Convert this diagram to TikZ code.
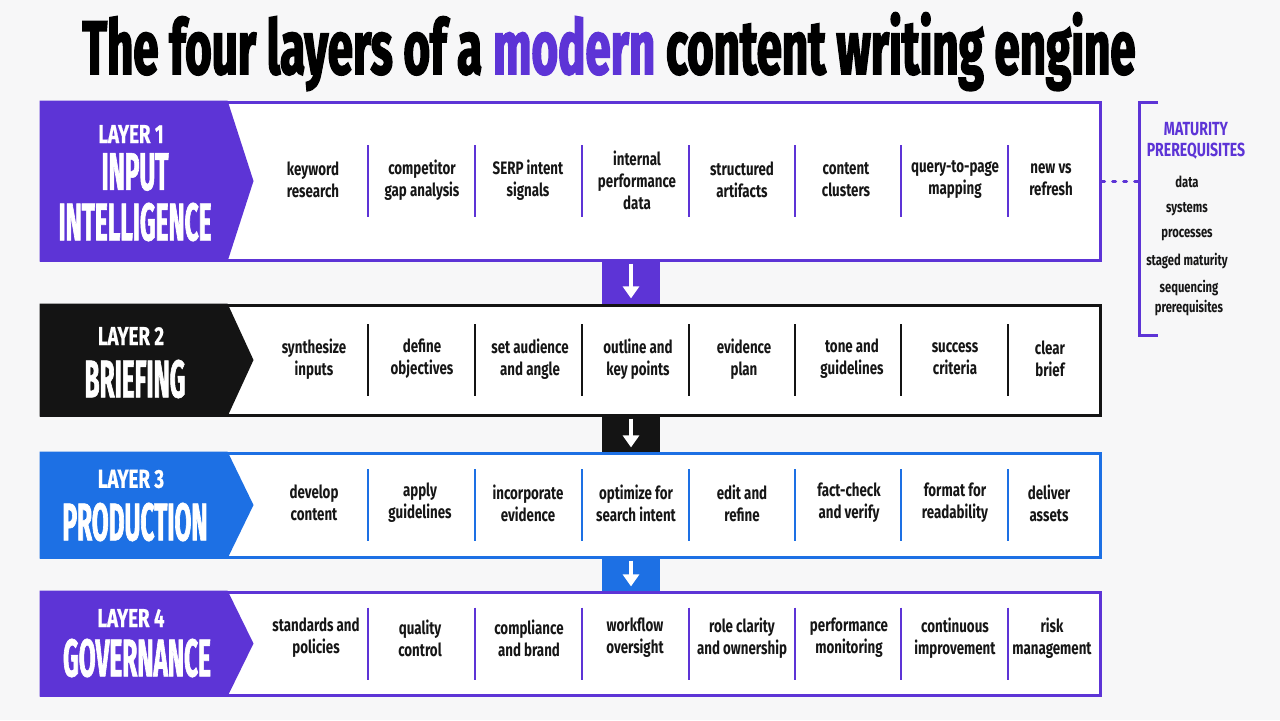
\documentclass[tikz,border=0pt]{standalone}
\usepackage{fontspec}
\setmainfont{Fira Sans}
\newfontfamily\titlefont{Fira Sans}[FakeStretch=0.6,FakeBold=2]
\newfontfamily\headfont{Fira Sans}[FakeStretch=0.46,FakeBold=1.2]
\newfontfamily\tagfont{Fira Sans}[FakeStretch=0.72,FakeBold=0.6]
\newfontfamily\itemfont{Fira Sans}[FakeStretch=0.74]
\usetikzlibrary{positioning}
\usetikzlibrary{arrows.meta}

\definecolor{engpurple}{RGB}{93,52,214}
\definecolor{engblue}{RGB}{29,112,228}
\definecolor{engblack}{RGB}{20,20,20}
\definecolor{engtext}{RGB}{22,22,22}
\definecolor{engbg}{RGB}{247,247,248}

\tikzset{
  layerbox/.style={draw=#1, line width=1.5pt, fill=white,
    minimum width=529.5pt, inner sep=0pt},
  sepline/.style={line width=1pt},
  laytag/.style={text=white, inner sep=0pt,
    font=\tagfont\bfseries\fontsize{13}{14}\selectfont},
  laytitle/.style={text=white, inner sep=0pt, align=center,
    font=\headfont\bfseries\fontsize{26.5}{23.5}\selectfont},
  item/.style={text=engtext, inner sep=0pt, align=center,
    font=\itemfont\bfseries\fontsize{9}{11}\selectfont},
  linkbox/.style={minimum width=29pt, inner sep=0pt},
  linkarrow/.style={draw=white, line width=1.6pt,
    -{Triangle[width=8pt,length=6pt]}, shorten <=2pt, shorten >=3pt},
  mathead/.style={text=engpurple, inner sep=0pt, align=center,
    font=\itemfont\bfseries\fontsize{9.5}{10.5}\selectfont},
  matitem/.style={text=engtext, inner sep=0pt, align=center,
    font=\itemfont\bfseries\fontsize{7.6}{10}\selectfont},
  matline/.style={draw=engpurple, line width=1.5pt},
}

\begin{document}
\begin{tikzpicture}[x=0.5pt, y=-0.5pt]
\useasboundingbox[fill=engbg] (0,0) rectangle (1280,720);

\node[anchor=base, font=\titlefont\bfseries\fontsize{38}{40}\selectfont]
  (title) at (609,74) {The four layers of a \textcolor{engpurple}{modern} content writing engine};

% links between the layers
\node[linkbox, fill=engpurple, minimum height=22pt] (link12) at (631,282) {};
\node[linkbox, fill=engblack, minimum height=19pt] (link23) at (631,434) {};
\node[linkbox, fill=engblue, minimum height=17.5pt] (link34) at (631,574.5) {};
\draw[linkarrow] (link12.north) -- (link12.south);
\draw[linkarrow] (link23.north) -- (link23.south);
\draw[linkarrow] (link34.north) -- (link34.south);

% layer boxes with their chevrons and separators
\foreach \n/\col/\cy/\h in {1/engpurple/181/79, 2/engblack/360/55,
                            3/engblue/505/52, 4/engpurple/643.5/51.5} {
  \node[layerbox=\col, minimum height=\h pt] (lay\n) at (570.5,\cy) {};
  \fill[\col] (lay\n.north west) -- ([xshift=94pt]lay\n.north west)
    -- ([xshift=107pt]lay\n.west) -- ([xshift=94pt]lay\n.south west)
    -- (lay\n.south west) -- cycle;
  \foreach \x in {368,475,582,689,795,901,1008}
    \draw[sepline, draw=\col] (\x,\cy-36) -- (\x,\cy+36);
}

\node[laytag] (tag1) at (131,134) {LAYER 1};
\node[laytitle] (name1) at (135,172) {INPUT};
\node[laytitle] (name1b) at (135,222) {INTELLIGENCE};
\node[laytag] (tag2) at (131,336) {LAYER 2};
\node[laytitle] (name2) at (135,379) {BRIEFING};
\node[laytag] (tag3) at (131,479) {LAYER 3};
\node[laytitle] (name3) at (135,522) {PRODUCTION};
\node[laytag] (tag4) at (131,618) {LAYER 4};
\node[laytitle] (name4) at (137,658) {GOVERNANCE};

% items
\foreach \i/\x/\txt in {1/313/{keyword\\research}, 2/422/{competitor\\gap analysis},
    3/528/{SERP intent\\signals}, 4/637/{internal\\performance\\data},
    5/742/{structured\\artifacts}, 6/846/{content\\clusters},
    7/955/{query-to-page\\mapping}, 8/1051/{new vs\\refresh}}
  \node[item] (l1i\i) at (\x,180) {\txt};
\foreach \i/\x/\txt in {1/314/{synthesize\\inputs}, 2/422/{define\\objectives},
    3/530/{set audience\\and angle}, 4/638/{outline and\\key points},
    5/744/{evidence\\plan}, 6/852/{tone and\\guidelines},
    7/955/{success\\criteria}, 8/1050/{clear\\brief}}
  \node[item] (l2i\i) at (\x,359) {\txt};
\foreach \i/\x/\txt in {1/314/{develop\\content}, 2/420/{apply\\guidelines},
    3/528/{incorporate\\evidence}, 4/636/{optimize for\\search intent},
    5/742/{edit and\\refine}, 6/849/{fact-check\\and verify},
    7/955/{format for\\readability}, 8/1049/{deliver\\assets}}
  \node[item] (l3i\i) at (\x,503) {\txt};
\foreach \i/\x/\txt in {1/316/{standards and\\policies}, 2/420/{quality\\control},
    3/529/{compliance\\and brand}, 4/635/{workflow\\oversight},
    5/742/{role clarity\\and ownership}, 6/849/{performance\\monitoring},
    7/955/{continuous\\improvement}, 8/1052/{risk\\management}}
  \node[item] (l4i\i) at (\x,638) {\txt};

% maturity prerequisites
\coordinate (brk) at (1139,181);
\draw[matline] (1158,102) -| (brk) |- (1158,335);
\draw[matline, loosely dotted, line cap=round] (lay1.east) -- (brk);
\node[mathead] (mat0) at (1196,141) {MATURITY\\PREREQUISITES};
\node[matitem] (mat1) at (1187,182) {data};
\node[matitem] (mat2) at (1187,209) {systems};
\node[matitem] (mat3) at (1187,235) {processes};
\node[matitem] (mat4) at (1187,261) {staged maturity};
\node[matitem] (mat5) at (1189,298) {sequencing\\prerequisites};
\end{tikzpicture}
\end{document}
